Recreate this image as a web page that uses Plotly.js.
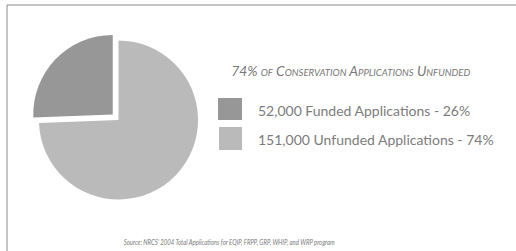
<!DOCTYPE html>
<html>
<head>
<meta charset="utf-8">
<script src="https://cdn.plot.ly/plotly-3.0.1.min.js"></script>
<style>html,body{margin:0;padding:0;background:#fff;}#chart{width:516px;height:251px;}</style>
</head>
<body>
<div id="chart"></div>
<script>
// Data
const categories = ["Funded Applications", "Unfunded Applications"];
const counts = [52000, 151000];
const percents = [26, 74];
const chartTitle = "74% of Conservation Applications Unfunded";
const sourceNote = "Source: NRCS' 2004 Total Applications for EQIP, FRPP, GRP, WHIP, and WRP program";

const sliceColors = ["#979797", "#bababa"];
const W = 516, H = 251;
const px = v => v / W, py = v => 1 - v / H;

const fmt = n => n.toLocaleString("en-US");
const legendLabels = categories.map((c, i) => fmt(counts[i]) + " " + c + " - " + percents[i] + "%");
const total = counts.reduce((a, b) => a + b, 0);

const trace = {
  type: "pie",
  values: counts,
  labels: categories,
  sort: false,
  direction: "clockwise",
  rotation: -360 * counts[0] / total,
  pull: [0.1, 0],
  textinfo: "none",
  hoverinfo: "none",
  showlegend: false,
  marker: { colors: sliceColors, line: { width: 0 } },
  domain: { x: [px(31), px(206)], y: [py(207.5), py(32.5)] }
};

const shapes = [
  { type: "line", xref: "paper", yref: "paper", x0: px(7), x1: px(516), y0: py(5), y1: py(5), line: { color: "#8a8a8a", width: 1 } },
  { type: "line", xref: "paper", yref: "paper", x0: px(7), x1: px(7), y0: py(5), y1: py(251), line: { color: "#8a8a8a", width: 1 } }
];
const legendBoxes = [[218, 98, 242, 120], [219, 127, 242, 150]];
legendBoxes.forEach((b, i) => shapes.push({
  type: "rect", xref: "paper", yref: "paper",
  x0: px(b[0]), x1: px(b[2]), y0: py(b[3]), y1: py(b[1]),
  fillcolor: sliceColors[i], line: { width: 0 }
}));

const annotations = [
  { text: chartTitle, xref: "paper", yref: "paper", x: px(350.5), y: py(71.5), xanchor: "center", yanchor: "middle", showarrow: false,
    font: { family: "Lato, sans-serif", size: 13, color: "#777777", style: "italic", variant: "small-caps" } },
  { text: sourceNote, xref: "paper", yref: "paper", x: px(228.5), y: py(242), xanchor: "center", yanchor: "middle", showarrow: false,
    font: { family: "Lato, sans-serif", size: 8, color: "#7a7a7a", style: "italic" } }
];
const legendY = [110, 139.5];
legendLabels.forEach((t, i) => annotations.push({
  text: t, xref: "paper", yref: "paper", x: px(256), y: py(legendY[i]), xanchor: "left", yanchor: "middle", showarrow: false,
  font: { family: "Lato, sans-serif", size: 14, color: "#7c7c7c" }
}));

const layout = {
  width: W, height: H,
  margin: { l: 0, r: 0, t: 0, b: 0 },
  paper_bgcolor: "#ffffff",
  showlegend: false,
  shapes: shapes,
  annotations: annotations
};
Plotly.newPlot("chart", [trace], layout, { displayModeBar: false, staticPlot: true }).then(gd => {
  // condense title and source text to the reference widths (text is centred, so it stays in place)
  const targets = { [chartTitle]: 239, [sourceNote]: 211 };
  gd.querySelectorAll(".annotation-text").forEach(t => {
    const w = targets[t.textContent];
    if (w) { t.setAttribute("textLength", w); t.setAttribute("lengthAdjust", "spacingAndGlyphs"); }
  });
});
</script>
</body>
</html>
